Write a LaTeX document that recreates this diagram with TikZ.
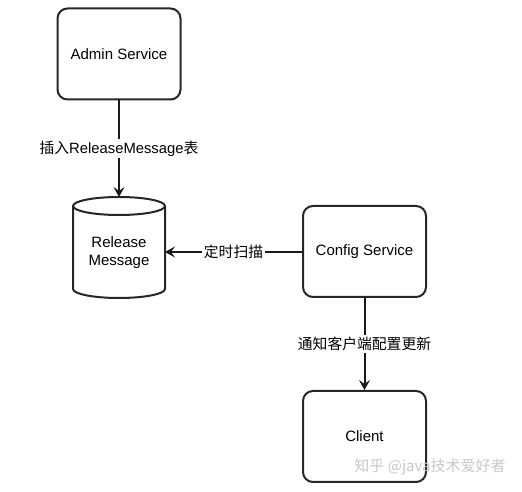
\documentclass[tikz,border=0pt]{standalone}
\usepackage{fontspec}
\setmainfont{Liberation Sans}
\newfontfamily\cjk{Noto Sans CJK SC}
\usetikzlibrary{arrows.meta}
\begin{document}
\begin{tikzpicture}[x=1pt,y=1pt,
  box/.style={draw=black!85,line width=2pt,rounded corners=10pt,minimum width=123pt,minimum height=91pt,inner sep=0pt,font=\fontsize{15}{17}\selectfont},
  conn/.style={line width=2pt,draw=black!90,-{Stealth[length=10pt,width=11pt,inset=4pt]}},
  lbl/.style={fill=white,inner sep=2pt,font=\fontsize{14.8}{16}\selectfont}]
\useasboundingbox (0,0) rectangle (522,492);
\node[box] (admin) at (119,438) {Admin Service};
\node[box] (config) at (364.5,240.5) {Config Service};
\node[box] (client) at (364.5,55.5) {Client};
% cylinder
\draw[draw=black!85,line width=2pt] (73,286) -- (73,203)
  arc[start angle=180,end angle=360,x radius=46pt,y radius=9pt] -- (165,286)
  arc[start angle=0,end angle=180,x radius=46pt,y radius=9pt];
\draw[draw=black!85,line width=2pt] (73,286) arc[start angle=180,end angle=360,x radius=46pt,y radius=9pt];
\node[align=center,font=\fontsize{15}{18}\selectfont] (rm) at (119,239) {Release\\Message};
\coordinate (cyltop) at (119,295);
\coordinate (cylright) at (165,240);
\draw[conn] (admin.south) -- node[lbl] {{\cjk 插入}ReleaseMessage{\cjk 表}} (cyltop);
\draw[conn] (config.west |- cylright) -- node[lbl] {\cjk 定时扫描} (cylright);
\draw[conn] (config.south) -- node[lbl] {\cjk 通知客户端配置更新} (client.north);
\node[text=black!22,font=\cjk\fontsize{15}{17}\selectfont] (wm) at (430,25) {知乎 @java技术爱好者};
\end{tikzpicture}
\end{document}
